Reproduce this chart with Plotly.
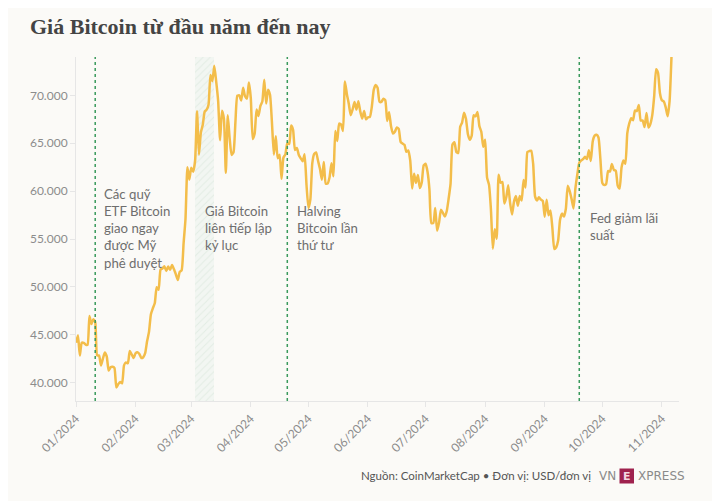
import pandas as pd
import plotly.graph_objects as go

# ---- data (daily BTC price, USD) ----
jan = [44180, 44950, 42850, 44180, 44160, 43980, 43950, 46970, 46120, 46630,
       46340, 42850, 42840, 41800, 42510, 43150, 42740, 41260, 41620, 41670,
       41550, 39510, 39850, 40080, 39930, 41810, 42120, 42030, 43300, 42950, 42580]
feb = [43080, 43190, 43000, 42580, 42660, 43080, 44320, 45300, 47150, 47770,
       48290, 49960, 49700, 51810, 51920, 52160, 51660, 52120, 51780, 52280,
       51840, 51300, 50730, 51570, 51730, 54520, 57090, 62500, 61200]
mar = [62440, 62030, 63170, 68330, 63800, 66110, 66930, 68300, 68500, 69020,
       72120, 71480, 73080, 71400, 69400, 65320, 68390, 67550, 61910, 67910,
       65490, 63780, 64060, 67230, 69960, 69990, 69460, 70780, 69900, 69650, 71330]
apr = [69700, 65450, 65980, 68510, 67840, 68900, 69360, 71620, 69140, 70590,
       70060, 67190, 63820, 65740, 63430, 63810, 61280, 63510, 63840, 64990,
       64930, 66840, 66410, 64290, 64500, 63760, 63420, 63110, 63840, 60640]
may = [58250, 59120, 62890, 63890, 64030, 63160, 62330, 61190, 63050, 60790,
       60790, 61450, 62900, 61550, 66270, 65230, 67050, 66940, 66280, 71450,
       70140, 69120, 67930, 68530, 69290, 68510, 69390, 68300, 67580, 68360, 67490]
jun = [67710, 67750, 68810, 70570, 71080, 70790, 69340, 69310, 69650, 69500,
       67320, 68240, 66760, 66010, 66190, 66640, 66490, 65140, 64960, 64830,
       64100, 64250, 63180, 60280, 61800, 60860, 61680, 60320, 60890, 62680]
jul = [62850, 62030, 60170, 56660, 56660, 58230, 55860, 56710, 58050, 57720,
       57340, 57900, 59230, 60790, 64870, 65100, 64090, 63970, 66710, 67160,
       68190, 67550, 65970, 65360, 65780, 67910, 67810, 68250, 66780, 66190, 64620]
aug = [65360, 61410, 60680, 58120, 53990, 56030, 55030, 61710, 60880, 60940,
       58710, 59350, 60610, 58740, 57560, 58880, 59480, 58480, 59490, 59010,
       61160, 60380, 64090, 64180, 64220, 62830, 59420, 59030, 59360, 59120, 58970]
sep = [57330, 59110, 57480, 57970, 56160, 53950, 54140, 54840, 57020, 57650,
       57340, 58130, 60570, 60000, 59180, 58190, 60310, 61760, 62950, 63200,
       63350, 63580, 63340, 64260, 63140, 65180, 65790, 65890, 65600, 63330]
oct_ = [60840, 60630, 60750, 62090, 62060, 62820, 62220, 62130, 60580, 60270,
        62450, 63190, 62850, 66050, 67040, 67610, 67400, 68420, 68360, 69000,
        67370, 67370, 66680, 68160, 66640, 67010, 67930, 69910, 72720, 72340, 70220]
nov = [69480, 69350, 68740, 67810, 69360, 74000]

prices = jan + feb + mar + apr + may + jun + jul + aug + sep + oct_ + nov
dates = pd.date_range("2024-01-01", periods=len(prices), freq="D")

month_ticks = ["2024-%02d-01" % m for m in range(1, 12)]
y_ticks = [40000, 45000, 50000, 55000, 60000, 65000, 70000]

event_dates = ["2024-01-11", "2024-04-20", "2024-09-19"]
record_start, record_end = "2024-03-03", "2024-03-13"

labels = [
    ("2024-01-14 12:00", "Các quỹ<br>ETF Bitcoin<br>giao ngay<br>được Mỹ<br>phê duyệt", 184),
    ("2024-03-07", "Giá Bitcoin<br>liên tiếp lập<br>kỷ lục", 201),
    ("2024-04-24", "Halving<br>Bitcoin lần<br>thứ tư", 201),
    ("2024-09-23 12:00", "Fed giảm lãi<br>suất", 208),
]

# ---- geometry (screen coords include the page's 8px body margin) ----
OFF = 8
W, H = 720, 501
L, R, T, B = 76 - OFF, 41 + OFF, 57 - OFF, 100 + OFF
X_RANGE = ["2024-01-01", "2024-11-09 22:00"]
Y_RANGE = [38090, 74000]
plot_h = H - T - B
plot_w = W - L - R


def py(pix):
    return (H - B - (pix - OFF)) / plot_h


def px(pix):
    return ((pix - OFF) - L) / plot_w


fig = go.Figure()

# shaded record-high period (hatched)
s = pd.Timestamp(record_start)
e = pd.Timestamp(record_end)
mid = s + (e - s) / 2
fig.add_trace(go.Bar(
    x=[mid], y=[Y_RANGE[1] - Y_RANGE[0]], base=[Y_RANGE[0]],
    width=[(e - s).total_seconds() * 1000],
    marker=dict(color="rgba(226,238,229,0.55)", line=dict(width=0),
                pattern=dict(shape="/", fgcolor="rgba(205,225,211,0.9)",
                             bgcolor="rgba(236,243,238,0.6)", size=5, solidity=0.2)),
    hoverinfo="skip", showlegend=False,
))

fig.add_trace(go.Scatter(
    x=dates, y=prices, mode="lines",
    line=dict(color="#f3bd4a", width=2.5, shape="spline", smoothing=0.5),
    showlegend=False,
))

for d in event_dates:
    fig.add_shape(type="line", xref="x", yref="paper", x0=d, x1=d, y0=0, y1=1,
                  line=dict(color="#3a9a5c", width=1.5, dash="dot"))

for x, txt, top in labels:
    fig.add_annotation(x=x, y=py(top), xref="x", yref="paper", text=txt,
                       showarrow=False, xanchor="left", yanchor="top", align="left",
                       font=dict(family="Lato", size=13.2, color="#6e6e6e"))

# footer
fig.add_annotation(x=px(593), y=py(475), xref="paper", yref="paper",
                   text="Nguồn: CoinMarketCap • Đơn vị: USD/đơn vị",
                   showarrow=False, xanchor="right", yanchor="middle",
                   font=dict(family="Lato", size=11.5, color="#555555"))
fig.add_annotation(x=px(618), y=py(476), xref="paper", yref="paper", text="VN",
                   showarrow=False, xanchor="right", yanchor="middle",
                   font=dict(family="DejaVu Sans", size=12, color="#8a8a8a"))
fig.add_shape(type="rect", xref="paper", yref="paper", x0=px(619.5), x1=px(634),
              y0=py(483.5), y1=py(468.5), fillcolor="#9f224e", line=dict(width=0))
fig.add_annotation(x=px(626.8), y=py(476), xref="paper", yref="paper", text="<b>E</b>",
                   showarrow=False, xanchor="center", yanchor="middle",
                   font=dict(family="DejaVu Sans", size=11, color="#f4d7e0"))
fig.add_annotation(x=px(636), y=py(476), xref="paper", yref="paper", text="XPRESS",
                   showarrow=False, xanchor="left", yanchor="middle",
                   font=dict(family="DejaVu Sans", size=12, color="#8a8a8a"))

fig.update_layout(
    width=W, height=H,
    margin=dict(l=L, r=R, t=T, b=B, autoexpand=False),
    paper_bgcolor="#fbfaf7", plot_bgcolor="#fbfaf7",
    separators=",.",
    bargap=0,
    title=dict(text="<b>Giá Bitcoin từ đầu năm đến nay</b>", x=(30 - OFF) / W,
               xanchor="left", y=1 - (26 - OFF) / H, yanchor="middle",
               xref="container", yref="container",
               font=dict(family="Liberation Serif", size=22, color="#444444")),
    xaxis=dict(type="date", range=X_RANGE, tickvals=month_ticks, tickformat="%m/%Y",
               tickangle=-45, showgrid=False, zeroline=False, showline=True,
               automargin=False,
               linecolor="#e6e6e6", ticks="outside", ticklen=5, tickcolor="#e6e6e6",
               tickfont=dict(family="Lato", size=12, color="#8c8c8c")),
    yaxis=dict(range=Y_RANGE, tickvals=y_ticks, tickformat=",d", showgrid=False,
               automargin=False,
               zeroline=False, showline=True, linecolor="#e6e6e6", ticks="outside",
               ticklen=5, tickcolor="#e6e6e6",
               tickfont=dict(family="Lato", size=12, color="#8c8c8c")),
)

fig.write_html("out.html")
